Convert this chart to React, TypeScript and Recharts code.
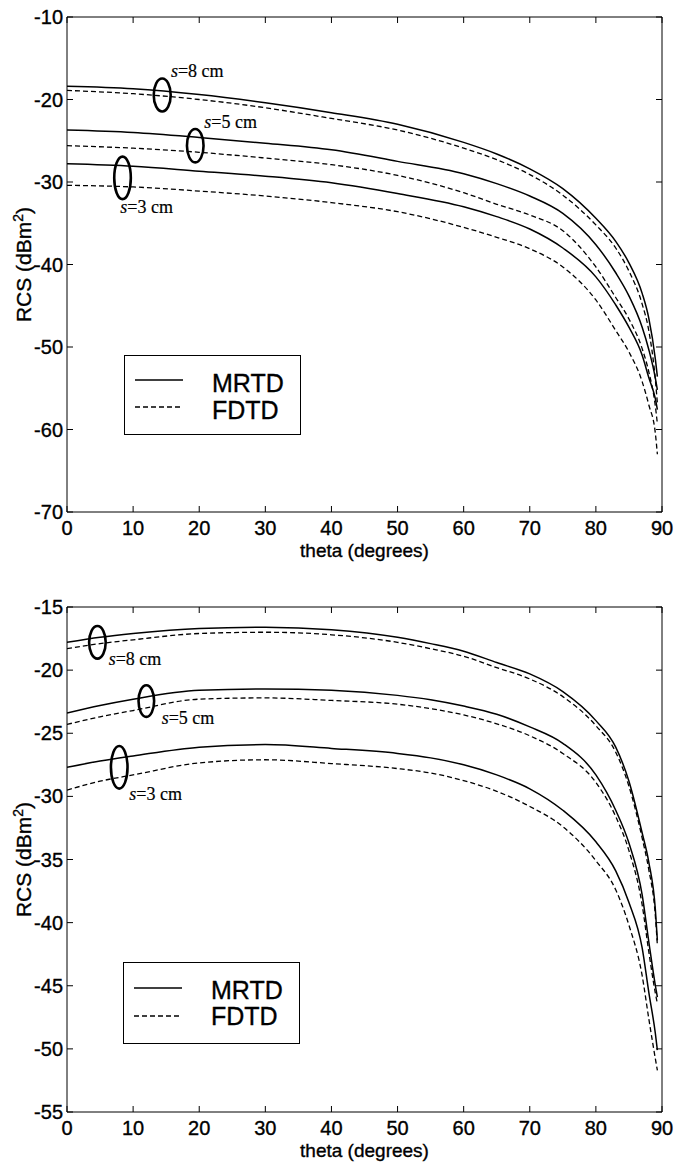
import React from 'react';
import { ComposedChart, Line, XAxis, YAxis, Scatter, Legend } from 'recharts';

// ---------------- Top panel data ----------------
const topTheta = [0, 10, 20, 30, 40, 50, 60, 65, 70, 75, 80, 83, 85, 87, 88, 89, 89.3];
const topMRTD_s8 = [-18.4, -18.7, -19.4, -20.4, -21.6, -23.0, -25.2, -26.6, -28.4, -30.8, -34.4, -37.2, -39.8, -43.5, -46.5, -51.5, -53.6];
const topFDTD_s8 = [-18.9, -19.3, -20.0, -21.0, -22.3, -23.7, -25.9, -27.3, -29.1, -31.6, -35.2, -38.0, -40.8, -44.8, -48.0, -54.0, -56.8];
const topMRTD_s5 = [-23.7, -24.0, -24.6, -25.3, -26.1, -27.5, -29.0, -30.2, -31.7, -33.8, -37.6, -41.0, -43.8, -47.6, -50.3, -53.8, -55.2];
const topFDTD_s5 = [-25.6, -25.9, -26.4, -27.1, -27.9, -29.2, -31.3, -32.7, -34.0, -35.9, -40.3, -44.0, -46.6, -50.2, -53.0, -57.2, -59.3];
const topMRTD_s3 = [-27.8, -28.1, -28.7, -29.3, -30.1, -31.4, -33.0, -34.2, -35.7, -38.0, -41.5, -44.9, -47.6, -51.0, -53.7, -56.3, -57.6];
const topFDTD_s3 = [-30.4, -30.6, -31.1, -31.7, -32.5, -33.6, -35.5, -36.7, -38.1, -40.3, -44.3, -48.0, -50.6, -54.2, -57.0, -60.5, -63.0];

// ---------------- Bottom panel data ----------------
const botTheta = [0, 5, 10, 20, 30, 40, 50, 55, 60, 65, 70, 75, 80, 83, 85, 87, 88, 89, 89.3];
const botMRTD_s8 = [-17.8, -17.4, -17.1, -16.7, -16.6, -16.8, -17.4, -17.9, -18.5, -19.4, -20.3, -21.7, -24.0, -26.1, -28.8, -32.9, -35.2, -39.0, -41.4];
const botFDTD_s8 = [-18.3, -17.9, -17.6, -17.1, -17.0, -17.2, -17.8, -18.3, -18.9, -19.8, -20.7, -22.1, -24.4, -26.5, -29.2, -33.3, -35.8, -39.5, -41.8];
const botMRTD_s5 = [-23.4, -22.8, -22.3, -21.6, -21.5, -21.6, -22.0, -22.35, -22.85, -23.5, -24.5, -25.8, -28.3, -31.1, -33.7, -37.8, -41.5, -45.0, -45.9];
const botFDTD_s5 = [-24.3, -23.7, -23.2, -22.3, -22.2, -22.4, -22.7, -23.05, -23.55, -24.25, -25.2, -26.6, -28.9, -31.6, -34.3, -38.6, -42.3, -45.6, -46.4];
const botMRTD_s3 = [-27.7, -27.2, -26.8, -26.1, -25.9, -26.2, -26.6, -26.95, -27.5, -28.3, -29.4, -31.1, -33.6, -35.9, -38.4, -42.0, -45.5, -48.8, -50.1];
const botFDTD_s3 = [-29.5, -28.8, -28.3, -27.35, -27.1, -27.4, -27.8, -28.15, -28.75, -29.6, -30.8, -32.4, -35.1, -37.4, -40.2, -44.2, -47.6, -50.8, -51.7];

// ---------------- Ticks ----------------
const xTicks = [0, 10, 20, 30, 40, 50, 60, 70, 80, 90];
const topYTicks = [-70, -60, -50, -40, -30, -20, -10];
const botYTicks = [-55, -50, -45, -40, -35, -30, -25, -20, -15];

// ---------------- Annotations (ellipses marking each s) ----------------
const annoLabels = ['s=8 cm', 's=5 cm', 's=3 cm'];
const topAnnoTheta = [14.4, 19.4, 8.4];
const topAnnoValue = [-19.45, -25.6, -29.5];
const botAnnoTheta = [4.6, 12.0, 7.9];
const botAnnoValue = [-17.8, -22.45, -27.7];

const legendNames = ['MRTD', 'FDTD'];
const sizes = ['s8', 's5', 's3'];

// ---------------- Styles ----------------
const SANS = '"Liberation Sans", Arial, Helvetica, sans-serif';
const SERIF = '"Liberation Serif", "Times New Roman", serif';
const TICK_LEN = 6;
const TEXT_STROKE = 0.35;
const topAnnoStyle = [
  { rx: 8.5, ry: 16.5, dx: 8.7, dy: -18 },
  { rx: 8.3, ry: 16.7, dx: 9, dy: -17.4 },
  { rx: 8.3, ry: 21.3, dx: -2.3, dy: 35 },
];
const botAnnoStyle = [
  { rx: 8.3, ry: 16.3, dx: 11.3, dy: 22.7 },
  { rx: 7.8, ry: 15.8, dx: 15.3, dy: 23.3 },
  { rx: 8.3, ry: 21.3, dx: 10, dy: 32.3 },
];

function buildRows(theta: number[], cols: Record<string, number[]>) {
  return theta.map((t, i) => {
    const row: Record<string, number> = { theta: t };
    Object.keys(cols).forEach((k) => {
      row[k] = cols[k][i];
    });
    return row;
  });
}

const topRows = buildRows(topTheta, {
  MRTD_s8: topMRTD_s8, FDTD_s8: topFDTD_s8,
  MRTD_s5: topMRTD_s5, FDTD_s5: topFDTD_s5,
  MRTD_s3: topMRTD_s3, FDTD_s3: topFDTD_s3,
});
const botRows = buildRows(botTheta, {
  MRTD_s8: botMRTD_s8, FDTD_s8: botFDTD_s8,
  MRTD_s5: botMRTD_s5, FDTD_s5: botFDTD_s5,
  MRTD_s3: botMRTD_s3, FDTD_s3: botFDTD_s3,
});
const topAnnos = annoLabels.map((l, i) => ({ theta: topAnnoTheta[i], value: topAnnoValue[i], label: l, i }));
const botAnnos = annoLabels.map((l, i) => ({ theta: botAnnoTheta[i], value: botAnnoValue[i], label: l, i }));

// ---------------- Tick renderers ----------------
const BottomTick = (p: any) => (
  <g>
    <line x1={p.x} y1={p.y} x2={p.x} y2={p.y - TICK_LEN} stroke="#000" strokeWidth={1} />
    <text x={p.x} y={p.y + 23} textAnchor="middle" fontSize={20} fontFamily={SANS} fill="#000" stroke="#000" strokeWidth={TEXT_STROKE}>
      {p.payload.value}
    </text>
  </g>
);
const TopTick = (p: any) => (
  <line x1={p.x} y1={p.y} x2={p.x} y2={p.y + TICK_LEN} stroke="#000" strokeWidth={1} />
);
const LeftTick = (p: any) => (
  <g>
    <line x1={p.x} y1={p.y} x2={p.x + TICK_LEN} y2={p.y} stroke="#000" strokeWidth={1} />
    <text x={p.x - 4} y={p.y + 7} textAnchor="end" fontSize={20} fontFamily={SANS} fill="#000" stroke="#000" strokeWidth={TEXT_STROKE}>
      {p.payload.value}
    </text>
  </g>
);
const RightTick = (p: any) => (
  <line x1={p.x} y1={p.y} x2={p.x - TICK_LEN} y2={p.y} stroke="#000" strokeWidth={1} />
);

const XLabel = (p: any) => {
  const vb = p.viewBox || { x: 67, y: 512, width: 595 };
  return (
    <text x={vb.x + vb.width / 2} y={vb.y + 45} textAnchor="middle" fontSize={19} fontFamily={SANS} fill="#000" stroke="#000" strokeWidth={TEXT_STROKE}>
      theta (degrees)
    </text>
  );
};
const YLabel = (p: any) => {
  const vb = p.viewBox || { x: 0, y: 17, height: 495 };
  const cx = vb.x + 31;
  const cy = vb.y + vb.height / 2;
  return (
    <text transform={`rotate(-90 ${cx} ${cy})`} x={cx} y={cy} textAnchor="middle" fontSize={21} fontFamily={SANS} fill="#000" stroke="#000" strokeWidth={TEXT_STROKE}>
      RCS (dBm<tspan dy={-8} fontSize={14}>2</tspan><tspan dy={8}>)</tspan>
    </text>
  );
};

const makeAnnoShape = (styles: any[]) => (p: any) => {
  const idx = p.payload ? p.payload.i : 0;
  const s = styles[idx];
  const label: string = p.payload ? p.payload.label : '';
  return (
    <g>
      <ellipse cx={p.cx} cy={p.cy} rx={s.rx} ry={s.ry} fill="none" stroke="#000" strokeWidth={2.6} />
      <text x={p.cx + s.dx} y={p.cy + s.dy} fontSize={18} fontFamily={SERIF} fill="#000" stroke="#000" strokeWidth={0.2}>
        <tspan fontStyle="italic">{label.charAt(0)}</tspan>
        {label.slice(1)}
      </text>
    </g>
  );
};

const makeLegend = (h: number, rowY: number[], baseY: number[]) => () => (
  <svg width={177} height={h} style={{ display: 'block' }}>
    <rect x={0.5} y={0.5} width={176} height={h - 1} fill="#fff" stroke="#000" strokeWidth={1} />
    {legendNames.map((n, i) => (
      <g key={n}>
        <line x1={11} x2={59} y1={rowY[i]} y2={rowY[i]} stroke="#000" strokeWidth={1.3} strokeDasharray={i === 1 ? '5 3' : undefined} />
        <text x={88} y={baseY[i]} fontSize={25} fontFamily={SANS} fill="#000" stroke="#000" strokeWidth={TEXT_STROKE}>{n}</text>
      </g>
    ))}
  </svg>
);

interface PanelProps {
  rows: any[];
  annos: any[];
  annoStyle: any[];
  yDomain: [number, number];
  yTicks: number[];
  top: number;
  marginTop: number;
  xAxisHeight: number;
  legendLeft: number;
  legendTop: number;
  legendH: number;
  rowY: number[];
  baseY: number[];
}

function Panel(props: PanelProps) {
  const { rows, annos, annoStyle, yDomain, yTicks, top, marginTop, xAxisHeight, legendLeft, legendTop, legendH, rowY, baseY } = props;
  const lines: any[] = [];
  sizes.forEach((s) => {
    lines.push(
      <Line key={'M' + s} dataKey={'MRTD_' + s} type="monotone" stroke="#000" strokeWidth={1.5} dot={false} activeDot={false} isAnimationActive={false} />
    );
    lines.push(
      <Line key={'F' + s} dataKey={'FDTD_' + s} type="monotone" stroke="#000" strokeWidth={1.3} strokeDasharray="5 3" dot={false} activeDot={false} isAnimationActive={false} />
    );
  });
  return (
    <div style={{ position: 'absolute', left: 0, top, width: 674, height: 584 }}>
      <ComposedChart width={674} height={584} data={rows} margin={{ top: marginTop, right: 12, bottom: 0, left: 0 }}>
        <XAxis
          dataKey="theta" type="number" domain={[0, 90]} ticks={xTicks} interval={0}
          height={xAxisHeight} tickSize={0} tickMargin={0} tickLine={false}
          axisLine={{ stroke: '#000', strokeWidth: 1 }} tick={BottomTick} allowDataOverflow
          label={XLabel}
        />
        <XAxis
          xAxisId="top" orientation="top" mirror dataKey="theta" type="number" domain={[0, 90]} ticks={xTicks} interval={0}
          height={10} tickSize={0} tickMargin={0} tickLine={false}
          axisLine={{ stroke: '#000', strokeWidth: 1 }} tick={TopTick} allowDataOverflow
        />
        <YAxis
          type="number" domain={yDomain} ticks={yTicks} interval={0} width={67}
          tickSize={0} tickMargin={0} tickLine={false}
          axisLine={{ stroke: '#000', strokeWidth: 1 }} tick={LeftTick} allowDataOverflow
          label={YLabel}
        />
        <YAxis
          yAxisId="right" orientation="right" mirror type="number" domain={yDomain} ticks={yTicks} interval={0} width={10}
          tickSize={0} tickMargin={0} tickLine={false}
          axisLine={{ stroke: '#000', strokeWidth: 1 }} tick={RightTick} allowDataOverflow
        />
        {lines}
        <Scatter
          xAxisId="top" yAxisId="right" data={annos} dataKey="value"
          shape={makeAnnoShape(annoStyle)} isAnimationActive={false}
        />
        <Legend
          layout="vertical" align="center" verticalAlign="middle"
          content={makeLegend(legendH, rowY, baseY)}
          wrapperStyle={{ left: legendLeft, top: legendTop, width: 177, height: legendH }}
        />
      </ComposedChart>
    </div>
  );
}

export default function App() {
  return (
    <div style={{ position: 'absolute', left: 0, top: 0, width: 674, height: 1168, background: '#fff' }}>
      <Panel
        rows={topRows} annos={topAnnos} annoStyle={topAnnoStyle}
        yDomain={[-70, -10]} yTicks={topYTicks} top={0} marginTop={17} xAxisHeight={72}
        legendLeft={124} legendTop={355} legendH={80} rowY={[25, 52]} baseY={[37, 63.5]}
      />
      <Panel
        rows={botRows} annos={botAnnos} annoStyle={botAnnoStyle}
        yDomain={[-55, -15]} yTicks={botYTicks} top={584} marginTop={23} xAxisHeight={56}
        legendLeft={123} legendTop={378} legendH={82} rowY={[26, 54]} baseY={[36.5, 63]}
      />
    </div>
  );
}
